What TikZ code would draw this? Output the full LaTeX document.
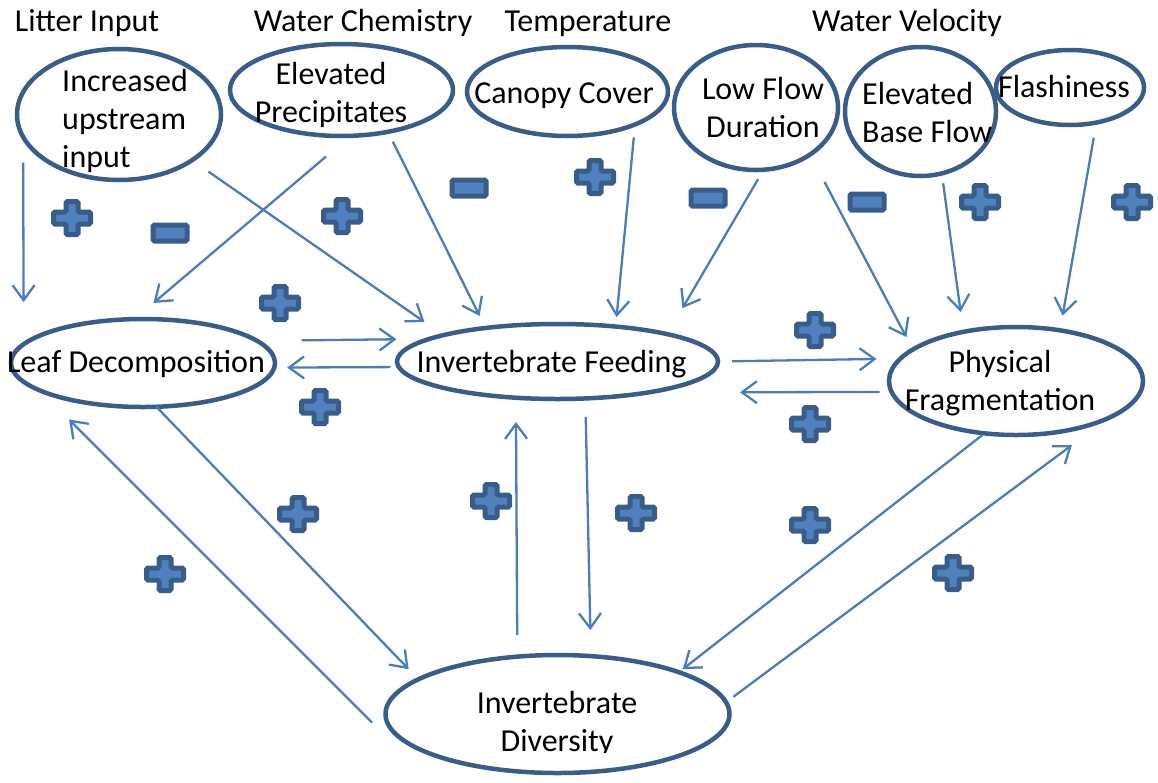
\documentclass[tikz,border=0pt]{standalone}
\usepackage{fontspec}
\setmainfont{Carlito}
\usetikzlibrary{shapes.geometric,arrows.meta}
\definecolor{ovalblue}{HTML}{385D8A}
\definecolor{linkblue}{HTML}{4A7EBB}
\definecolor{signblue}{HTML}{4F81BD}
\tikzset{
  oval/.style={ellipse,draw=ovalblue,line width=4.5pt,inner sep=0pt,outer sep=0pt},
  lbl/.style={inner sep=0pt,anchor=base,font=\fontsize{32}{38}\selectfont},
  link/.style={draw=linkblue,line width=2.3pt,-{Straight Barb[length=15pt,width=22pt]}},
  signshape/.style={draw=ovalblue,fill=signblue,line width=5pt,rounded corners=1.5pt},
  plussign/.pic={\path[signshape] (-6,-16.5) -- (6,-16.5) -- (6,-6) -- (18.5,-6) -- (18.5,6) -- (6,6) -- (6,16.5) -- (-6,16.5) -- (-6,6) -- (-18.5,6) -- (-18.5,-6) -- (-6,-6) -- cycle;},
  minussign/.pic={\path[signshape] (-17,-8) rectangle (17,8);}
}
\begin{document}
\begin{tikzpicture}[x=1pt,y=-1pt]
  \useasboundingbox (0,0) rectangle (1158,782);
  \node[lbl] (litter) at (87,31) {Litter Input};
  \node[lbl] (chem) at (363,31) {Water Chemistry};
  \node[lbl] (temp) at (588,31) {Temperature};
  \node[lbl] (velocity) at (907,31) {Water Velocity};

  \node[oval,minimum width=204pt,minimum height=131pt] (upstream) at (119,114.5) {};
  \node[oval,minimum width=223pt,minimum height=92pt] (precip) at (341.5,90) {};
  \node[oval,minimum width=201pt,minimum height=89pt] (canopy) at (567.5,91.5) {};
  \node[oval,minimum width=164pt,minimum height=125pt] (lowflow) at (756,107.5) {};
  \node[oval,minimum width=151pt,minimum height=129pt] (baseflow) at (920.5,111.5) {};
  \node[oval,minimum width=148pt,minimum height=75pt] (flash) at (1070,87.5) {};
  \node[oval,minimum width=264pt,minimum height=88pt] (leaf) at (143,363) {};
  \node[oval,minimum width=321pt,minimum height=75pt] (feeding) at (557.5,361.5) {};
  \node[oval,minimum width=254pt,minimum height=108pt] (frag) at (1016,381) {};
  \node[oval,minimum width=344pt,minimum height=118pt] (diversity) at (557.5,714) {};

  \node[lbl,anchor=base west,align=left] (upstreamtxt) at (62,167) {Increased\\upstream\\input};
  \node[lbl,align=center] (preciptxt) at (331,122) {Elevated\\Precipitates};
  \node[lbl] (canopytxt) at (564,103) {Canopy Cover};
  \node[lbl,align=center] (lowflowtxt) at (763,137) {Low Flow\\Duration};
  \node[lbl,anchor=base west,align=left] (baseflowtxt) at (862,142) {Elevated\\Base Flow};
  \node[lbl] (flashtxt) at (1064,97) {Flashiness};
  \node[lbl] (leaftxt) at (136,372) {Leaf Decomposition};
  \node[lbl] (feedingtxt) at (551.5,372) {Invertebrate Feeding};
  \node[lbl,align=center] (fragtxt) at (1000,410) {Physical\\Fragmentation};
  \begin{scope}
    \clip (0,0) rectangle (1158,752);
    \node[lbl,align=center] (diversitytxt) at (557,751) {Invertebrate\\Diversity};
  \end{scope}

  \draw[link,shorten <=26pt,shorten >=42pt] (upstream.193) -- (leaf.171.3);
  \draw[link,shorten <=20pt,shorten >=23pt] (upstream.-32.4) -- (feeding.167.2);
  \draw[link,shorten <=32pt,shorten >=25pt] (precip.-79.9) -- (leaf.101.4);
  \draw[link,shorten <=11pt,shorten >=13.5pt] (precip.-42.7) -- (feeding.155.2);
  \draw[link,shorten <=13pt,shorten >=9.5pt] (canopy.-26.5) -- (feeding.31.3);
  \draw[link,shorten <=11pt,shorten >=30pt] (lowflow.-83) -- (feeding.14.7);
  \draw[link,shorten <=31pt,shorten >=14pt] (lowflow.-41.4) -- (frag.163.1);
  \draw[link,shorten <=10pt,shorten >=20pt] (baseflow.-71.1) -- (frag.137.5);
  \draw[link,shorten <=15.5pt,shorten >=15pt] (flash.-53.9) -- (frag.49.6);
  \draw[link,shorten <=44.5pt,shorten >=33pt] (leaf.11.6) -- (feeding.170.7);
  \draw[link,shorten <=8.4pt,shorten >=12.9pt] (feeding.182.4) -- (leaf.-2.2);
  \draw[link,shorten <=14pt,shorten >=24pt] (feeding.0.5) -- (frag.169.8);
  \draw[link,shorten <=12pt,shorten >=92.4pt] (frag.185.5) -- (feeding.-19.9);
  \draw[link,shorten >=14pt] (leaf.-73.8) -- (diversity.166.5);
  \draw[link,shorten <=19pt,shorten >=41pt] ([yshift=-22pt]diversity.west) -- (leaf.195.2);
  \draw[link,shorten <=21.7pt,shorten >=24.2pt] (diversity.125.3) -- (feeding.221.9);
  \draw[link,shorten <=18.5pt,shorten >=26pt] (feeding.-53.8) -- (diversity.60.2);
  \draw[link,shorten <=3pt,shorten >=5pt] (frag.239.5) -- (diversity.19.9);
  \draw[link,shorten <=9pt,shorten >=45pt] (diversity.4) -- (frag.-22.9);

  \pic at (72,218) {plussign};
  \pic at (342,216) {plussign};
  \pic at (595,177) {plussign};
  \pic at (280,303) {plussign};
  \pic at (320,407) {plussign};
  \pic at (815,330) {plussign};
  \pic at (810,424) {plussign};
  \pic at (298,514) {plussign};
  \pic at (491,501) {plussign};
  \pic at (636,513) {plussign};
  \pic at (810,525) {plussign};
  \pic at (165,574) {plussign};
  \pic at (953,573) {plussign};
  \pic at (980,202) {plussign};
  \pic at (1132,202) {plussign};
  \pic at (170,233) {minussign};
  \pic at (469,188) {minussign};
  \pic at (708,198) {minussign};
  \pic at (867,202) {minussign};
\end{tikzpicture}
\end{document}
